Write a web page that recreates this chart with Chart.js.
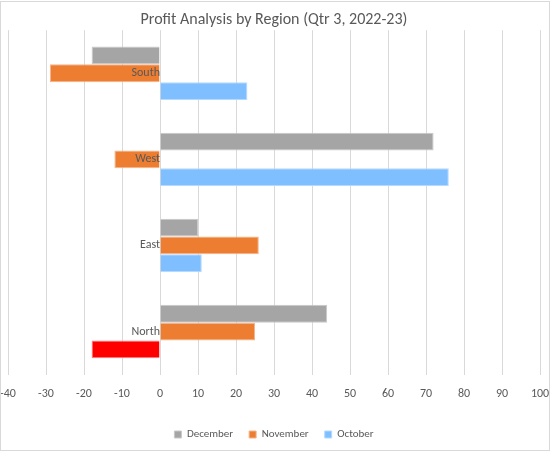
<!DOCTYPE html>
<html>
<head>
<meta charset="utf-8">
<script src="https://cdn.jsdelivr.net/npm/chart.js@4"></script>
<style>
  html, body { margin: 0; padding: 0; background: #fff; }
  #wrap { width: 551px; height: 453px; position: relative; }
</style>
</head>
<body>
<div id="wrap"><canvas id="c" width="551" height="453"></canvas></div>
<script>
const categories = ['South', 'West', 'East', 'North'];
const december = [-18, 72, 10, 44];
const november = [-29, -12, 26, 25];
const october = [23, 76, 11, -18];
const xTicks = [-40, -30, -20, -10, 0, 10, 20, 30, 40, 50, 60, 70, 80, 90, 100];
const highlightCategory = 'North';

const FONT = 'Carlito, Lato, "Open Sans", sans-serif';
const TEXT = '#595959';

const borderPlugin = {
  id: 'chartBorder',
  afterDraw(chart) {
    const ctx = chart.ctx;
    ctx.save();
    ctx.strokeStyle = '#d9d9d9';
    ctx.lineWidth = 1;
    ctx.strokeRect(0.5, 1.5, 549, 449);
    ctx.restore();
  }
};

new Chart(document.getElementById('c'), {
  type: 'bar',
  plugins: [borderPlugin],
  data: {
    labels: categories,
    datasets: [
      { label: 'December', data: december, backgroundColor: '#A5A5A5', borderColor: '#C9C9C9', borderWidth: 1 },
      { label: 'November', data: november, backgroundColor: '#ED7D31', borderColor: '#F5B48A', borderWidth: 1 },
      { label: 'October', data: october,
        backgroundColor: ctx => categories[ctx.dataIndex] === highlightCategory ? '#FF0000' : '#7FBFFF',
        borderColor: ctx => categories[ctx.dataIndex] === highlightCategory ? '#FF8080' : '#B5DAFF',
        borderWidth: 1 }
    ]
  },
  options: {
    indexAxis: 'y',
    responsive: false,
    animation: false,
    devicePixelRatio: 1,
    layout: { padding: { left: 8, right: 11, top: 0, bottom: 3 } },
    datasets: { bar: { categoryPercentage: 0.62, barPercentage: 1 } },
    plugins: {
      title: {
        display: true,
        text: 'Profit Analysis by Region (Qtr 3, 2022-23)',
        color: TEXT,
        font: { family: FONT, size: 16, weight: 'normal' },
        padding: { top: 10, bottom: 1 }
      },
      legend: {
        position: 'bottom',
        labels: {
          color: TEXT,
          font: { family: FONT, size: 11 },
          boxWidth: 7,
          boxHeight: 7,
          padding: 16
        }
      },
      tooltip: { enabled: false }
    },
    scales: {
      x: {
        type: 'linear',
        min: -40,
        max: 100,
        afterBuildTicks: s => { s.ticks = xTicks.map(v => ({ value: v })); },
        afterFit: s => { s.paddingLeft = 0; s.paddingRight = 0; },
        grid: { color: '#d9d9d9', drawTicks: false },
        border: { display: false },
        ticks: { color: TEXT, font: { family: FONT, size: 12 }, padding: 12, maxRotation: 0, autoSkip: false }
      },
      y: {
        position: { x: 0 },
        afterFit: s => { s.paddingTop = 0; s.paddingBottom = 0; },
        grid: { display: false },
        border: { display: false },
        ticks: { z: 1, color: TEXT, font: { family: FONT, size: 12 }, padding: 5 }
      }
    }
  }
});
</script>
</body>
</html>
